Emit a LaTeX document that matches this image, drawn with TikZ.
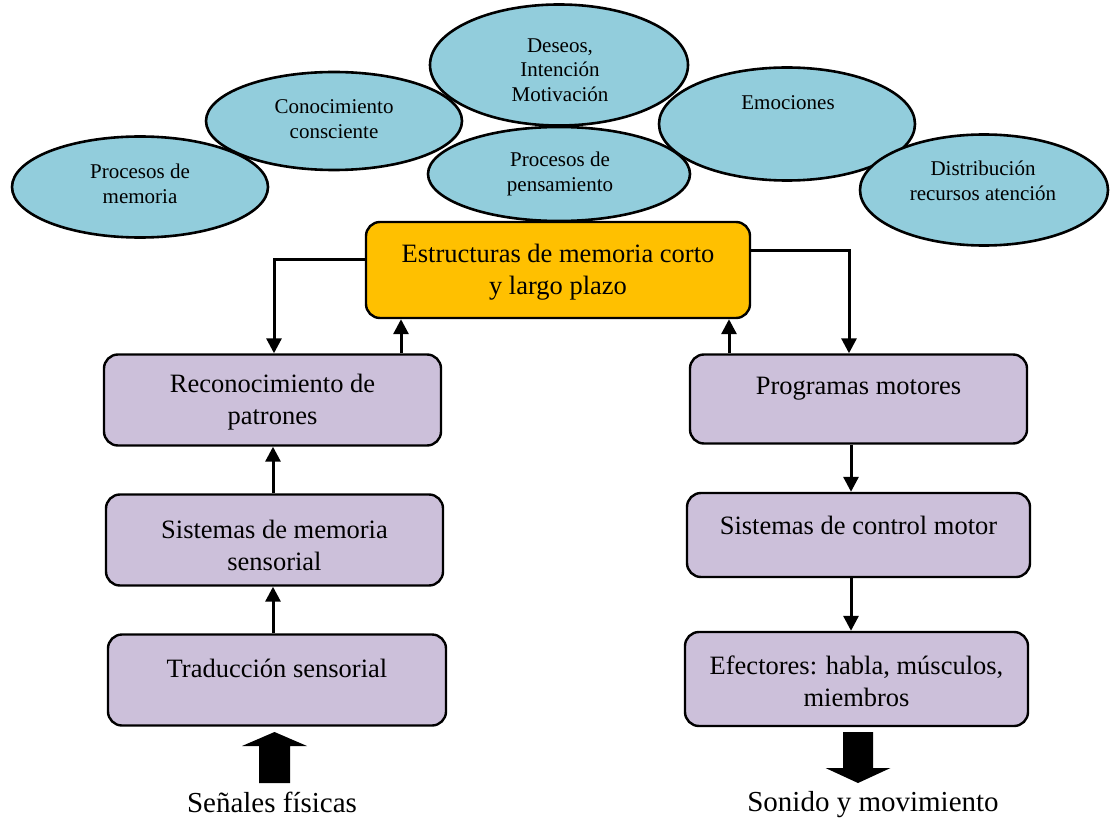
\documentclass[tikz,border=0pt]{standalone}
\usepackage{fontspec}
\setmainfont{Liberation Serif}
\usetikzlibrary{shapes.geometric,arrows.meta}
\definecolor{teal}{HTML}{92CDDC}
\definecolor{lav}{HTML}{CCC0DA}
\definecolor{gold}{HTML}{FFC000}
\begin{document}
\begin{tikzpicture}[x=1pt,y=-1pt,
  ell/.style={ellipse, draw=black, line width=2.6pt, fill=teal, inner sep=0pt},
  etxt/.style={align=center, inner sep=0pt, font=\fontsize{21}{24.5}\selectfont},
  blk/.style={rectangle, rounded corners=14pt, draw=black, line width=2.4pt, fill=lav, inner sep=0pt},
  btxt/.style={align=center, inner sep=0pt, font=\fontsize{26.5}{32}\selectfont},
  conn/.style={line width=3pt, -{Triangle[width=15pt,length=15pt]}},
  big/.style={font=\fontsize{29}{34}\selectfont, inner sep=0pt, anchor=base}]
\useasboundingbox (0,0) rectangle (1110,818);

% cognitive processes around the memory structures
\node[ell, minimum width=256pt, minimum height=101pt] (pm) at (140,187) {};
\node[etxt] at (140,184) {Procesos de\\memoria};
\node[ell, minimum width=256pt, minimum height=98pt] (cc) at (334,121) {};
\node[etxt] at (334,119) {Conocimiento\\consciente};
\node[ell, minimum width=258pt, minimum height=121pt] (dm) at (559,65) {};
\node[etxt] at (560,70) {Deseos,\\Intención\\Motivación};
\node[ell, minimum width=262pt, minimum height=94pt] (pp) at (559,174) {};
\node[etxt] at (560,174) {Procesos de\\pensamiento};
\node[ell, minimum width=256pt, minimum height=113pt] (em) at (787,124) {};
\node[etxt] at (788,103) {Emociones};
\node[ell, minimum width=248pt, minimum height=111pt] (dr) at (984,190) {};
\node[etxt] at (983,181) {Distribución\\recursos atención};

% central memory store
\node[blk, fill=gold, minimum width=384pt, minimum height=96pt] (est) at (558,270) {};
\node[btxt] at (558,272) {Estructuras de memoria corto\\y largo plazo};

% perceptual chain
\node[blk, minimum width=337pt, minimum height=91pt] (rec) at (272.5,400) {};
\node[btxt] at (272.5,402) {Reconocimiento de\\patrones};
\node[blk, minimum width=337pt, minimum height=91pt] (sm) at (274.5,540) {};
\node[btxt] at (274.5,545) {Sistemas de memoria\\sensorial};
\node[blk, minimum width=338pt, minimum height=91pt] (tr) at (277,680) {};
\node[btxt] at (277,668) {Traducción sensorial};

% motor chain
\node[blk, minimum width=337pt, minimum height=89pt] (pg) at (858.5,399) {};
\node[btxt] at (858.5,389) {Programas motores};
\node[blk, minimum width=343pt, minimum height=84pt] (cm) at (858.5,535) {};
\node[btxt] at (858.5,525) {Sistemas de control motor};
\node[blk, minimum width=343pt, minimum height=94pt] (ef) at (856.5,679) {};
\node[btxt] at (856.5,681) {Efectores: habla, músculos,\\miembros};

% connectors
\coordinate (c1) at (274,259);
\coordinate (c2) at (401,330);
\coordinate (c3) at (849,251);
\coordinate (c4) at (729,330);
\coordinate (c5) at (273,470);
\coordinate (c6) at (851,470);
\draw[conn] (est.west|-c1) -- (c1) -- (c1|-rec.north);
\draw[conn] (rec.north-|c2) -- (est.south-|c2);
\draw[conn] (est.east|-c3) -- (c3) -- (c3|-pg.north);
\draw[conn] (pg.north-|c4) -- (est.south-|c4);
\draw[conn] (sm.north-|c5) -- (rec.south-|c5);
\draw[conn] (tr.north-|c5) -- (sm.south-|c5);
\draw[conn] (pg.south-|c6) -- (cm.north-|c6);
\draw[conn] (cm.south-|c6) -- (ef.north-|c6);

% input and output block arrows
\coordinate (ain) at (274.5,732);
\fill (ain) -- ++(32.5,14) -- ++(-17,0) -- ++(0,37) -- ++(-31,0) -- ++(0,-37) -- ++(-17,0) -- cycle;
\coordinate (aout) at (858,783);
\fill (aout) -- ++(32.5,-15) -- ++(-17.5,0) -- ++(0,-36) -- ++(-30,0) -- ++(0,36) -- ++(-17.5,0) -- cycle;
\node[big] (sen) at (272,812) {Señales físicas};
\node[big] (son) at (873,811) {Sonido y movimiento};
\end{tikzpicture}
\end{document}
